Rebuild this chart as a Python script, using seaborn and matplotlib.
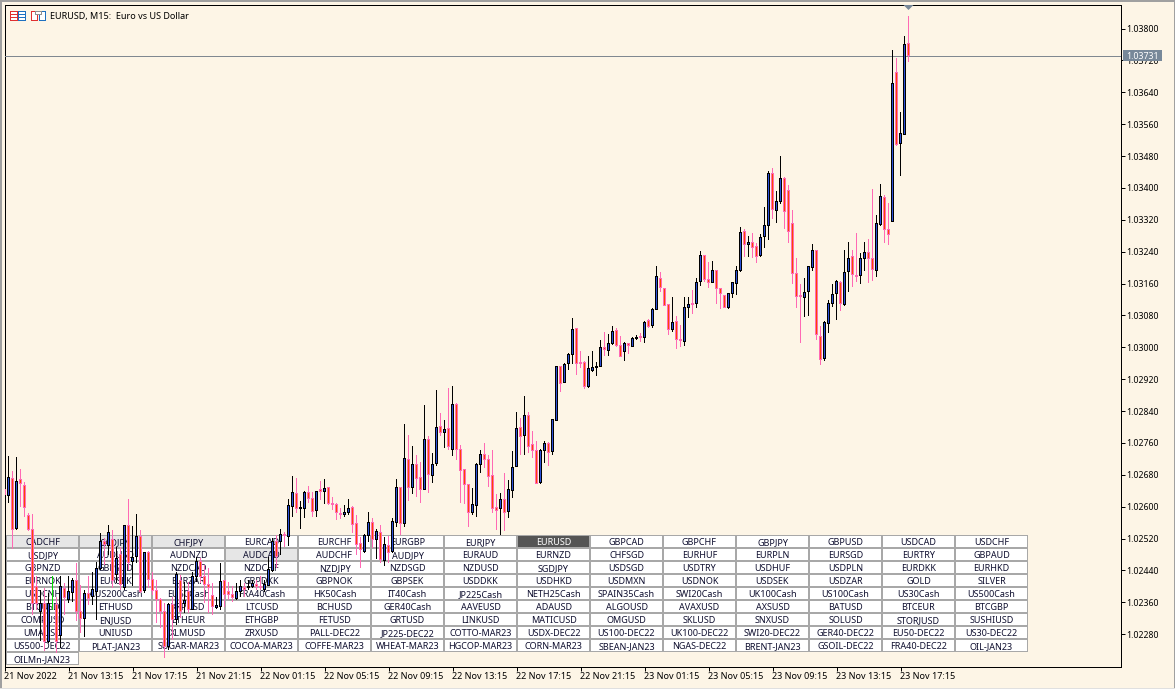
import numpy as np
import pandas as pd
import seaborn as sns
import matplotlib
matplotlib.use("Agg")
import matplotlib.pyplot as plt
from matplotlib.patches import Rectangle, Polygon
from matplotlib.transforms import Affine2D

# ---- chart data: MT5 points (price x 100000) ----
highs = [
102667,102727,102690,102724,102695,102663,102584,102582,102425,102391,
102396,102384,102425,102374,102425,102409,102425,102421,102459,102404,
102391,102425,102437,102462,102534,102522,102554,102542,102500,102500,
102552,102619,102552,102582,102542,102487,102490,102437,102416,102371,
102359,102359,102374,102437,102429,102412,102412,102437,102475,102472,
102454,102446,102409,102374,102459,102416,102412,102400,102409,102416,
102408,102416,102416,102416,102425,102416,102475,102521,102529,102544,
102537,102619,102677,102673,102614,102640,102652,102636,102640,102665,
102669,102650,102625,102609,102596,102604,102619,102602,102579,102523,
102532,102586,102571,102544,102554,102525,102527,102571,102670,102650,
102807,102780,102752,102730,102712,102855,102778,102734,102893,102834,
102818,102899,102903,102860,102755,102695,102657,102646,102709,102742,
102759,102730,102742,102632,102634,102684,102667,102740,102837,102823,
102878,102837,102790,102765,102745,102765,102762,102819,102954,102952,
102960,102986,103073,103048,102991,102966,102978,102991,102964,103018,
103039,103033,103053,103049,103028,103013,103012,103027,103031,103035,
103067,103070,103098,103204,103188,103150,103109,103125,103078,103056,
103125,103125,103144,103175,103241,103232,103215,103216,103194,103149,
103131,103137,103164,103204,103301,103296,103279,103287,103262,103284,
103353,103442,103449,103393,103480,103428,103407,103344,103223,103159,
103173,103204,103258,103244,103053,103066,103119,103158,103169,103167,
103244,103263,103244,103286,103236,103263,103273,103396,103332,103411,
103382,103361,103746,103725,103591,103781,103831]
lows = [
102609,102610,102493,102542,102600,102575,102539,102328,102341,102262,
102237,102258,102341,102233,102245,102328,102359,102360,102312,102283,
102274,102354,102354,102316,102441,102454,102479,102396,102409,102391,
102391,102441,102400,102459,102383,102383,102396,102379,102308,102295,
102220,102241,102266,102304,102321,102333,102334,102340,102412,102409,
102359,102334,102328,102343,102341,102349,102366,102362,102366,102374,
102374,102391,102396,102391,102391,102387,102400,102437,102446,102479,
102500,102502,102573,102584,102544,102571,102609,102573,102573,102617,
102607,102604,102592,102567,102569,102573,102579,102534,102479,102446,
102485,102512,102496,102468,102458,102452,102458,102484,102550,102529,
102550,102615,102632,102625,102609,102642,102634,102660,102701,102778,
102748,102742,102726,102717,102609,102606,102550,102578,102575,102684,
102697,102650,102584,102542,102529,102539,102571,102623,102699,102730,
102730,102734,102722,102657,102657,102709,102703,102730,102815,102889,
102910,102943,102958,102930,102949,102895,102899,102939,102929,102950,
102978,102978,103006,103001,102975,102966,102983,103001,103018,103014,
103012,103049,103049,103093,103139,103104,103031,103039,102996,103000,
103003,103073,103083,103099,103154,103164,103150,103162,103109,103096,
103098,103095,103123,103132,103190,103226,103227,103223,103212,103227,
103248,103269,103323,103312,103359,103296,103262,103160,103099,103012,
103077,103079,103192,103018,102956,102966,103035,103102,103069,103091,
103104,103139,103152,103164,103160,103192,103162,103167,103177,103305,
103262,103257,103314,103506,103430,103532,103716]
opens = [
102644,102628,102671,102545,102669,102653,102577,102542,102400,102337,
102356,102262,102378,102354,102278,102394,102368,102385,102416,102337,
102320,102383,102375,102387,102446,102512,102502,102517,102429,102479,
102398,102552,102462,102475,102525,102390,102486,102418,102390,102368,
102337,102249,102354,102316,102416,102356,102387,102341,102424,102462,
102425,102404,102377,102348,102349,102415,102386,102379,102369,102386,
102396,102396,102400,102404,102400,102391,102402,102441,102512,102512,
102531,102525,102600,102632,102595,102596,102636,102621,102590,102642,
102638,102649,102609,102606,102584,102580,102585,102599,102557,102508,
102487,102527,102561,102518,102536,102465,102502,102487,102561,102649,
102559,102719,102649,102707,102674,102644,102769,102678,102709,102801,
102786,102796,102744,102857,102744,102694,102656,102585,102602,102707,
102730,102719,102678,102599,102596,102619,102588,102640,102701,102799,
102778,102828,102755,102742,102660,102741,102759,102738,102816,102951,
102912,102960,102982,103046,102962,102962,102901,102943,102950,102951,
103000,102991,103010,103043,103005,102989,103010,103003,103022,103027,
103025,103066,103054,103095,103173,103148,103108,103045,103064,103020,
103014,103099,103110,103110,103164,103231,103169,103163,103192,103148,
103129,103099,103135,103160,103192,103290,103258,103263,103252,103230,
103277,103305,103436,103344,103365,103424,103393,103311,103184,103131,
103124,103139,103200,103242,103027,102971,103060,103110,103135,103163,
103108,103190,103227,103181,103179,103223,103238,103223,103192,103307,
103376,103296,103315,103690,103512,103535,103762]
closes = [
102630,102674,102544,102664,102659,102599,102542,102358,102356,102356,
102262,102356,102378,102262,102400,102371,102387,102416,102337,102320,
102383,102370,102391,102446,102512,102504,102535,102416,102471,102404,
102552,102459,102473,102525,102387,102486,102418,102390,102366,102337,
102249,102354,102316,102429,102337,102364,102341,102424,102462,102425,
102404,102396,102349,102351,102412,102379,102379,102373,102387,102400,
102393,102400,102408,102400,102396,102404,102443,102512,102475,102531,
102527,102602,102635,102596,102599,102636,102621,102588,102639,102639,
102646,102609,102605,102586,102580,102586,102596,102556,102506,102492,
102527,102561,102517,102537,102467,102504,102486,102564,102649,102559,
102722,102649,102707,102671,102644,102769,102682,102707,102799,102787,
102794,102751,102857,102744,102690,102656,102585,102606,102707,102730,
102719,102675,102596,102590,102617,102585,102644,102699,102796,102776,
102828,102751,102742,102659,102742,102759,102736,102818,102951,102910,
102957,102983,103045,102960,102959,102901,102947,102950,102953,103000,
102995,103010,103040,103005,102976,103010,103005,103023,103025,103025,
103063,103052,103096,103177,103150,103106,103045,103063,103020,103016,
103100,103108,103108,103163,103231,103169,103163,103192,103148,103134,
103100,103135,103163,103192,103288,103258,103263,103251,103229,103276,
103305,103436,103346,103366,103424,103340,103290,103184,103127,103127,
103138,103202,103242,103031,102970,103063,103110,103133,103165,103110,
103188,103223,103183,103177,103223,103238,103223,103196,103311,103378,
103296,103283,103662,103510,103537,103760,103731]
assert len(highs) == len(lows) == len(opens) == len(closes) == 227

last_price = 1.03731
price_ticks = [1.02280, 1.02360, 1.02440, 1.02520, 1.02600, 1.02680, 1.02760, 1.02840,
               1.02920, 1.03000, 1.03080, 1.03160, 1.03240, 1.03320, 1.03400, 1.03480,
               1.03560, 1.03640, 1.03720, 1.03800]
time_tick_bars = [0, 16, 32, 48, 64, 80, 96, 112, 128, 144, 160, 176, 192, 208, 224]
time_labels = ["21 Nov 2022", "21 Nov 13:15", "21 Nov 17:15", "21 Nov 21:15", "22 Nov 01:15",
               "22 Nov 05:15", "22 Nov 09:15", "22 Nov 13:15", "22 Nov 17:15", "22 Nov 21:15",
               "23 Nov 01:15", "23 Nov 05:15", "23 Nov 09:15", "23 Nov 13:15", "23 Nov 17:15"]
title_text = "EURUSD, M15:  Euro vs US Dollar"

button_rows = [
 ["CADCHF","CADJPY","CHFJPY","EURCAD","EURCHF","EURGBP","EURJPY","EURUSD","GBPCAD","GBPCHF","GBPJPY","GBPUSD","USDCAD","USDCHF"],
 ["USDJPY","AUDUSD","AUDNZD","AUDCAD","AUDCHF","AUDJPY","EURAUD","EURNZD","CHFSGD","EURHUF","EURPLN","EURSGD","EURTRY","GBPAUD"],
 ["GBPNZD","GBPSGD","NZDCAD","NZDCHF","NZDJPY","NZDSGD","NZDUSD","SGDJPY","USDSGD","USDTRY","USDHUF","USDPLN","EURDKK","EURHKD"],
 ["EURNOK","EURSEK","EURZAR","GBPDKK","GBPNOK","GBPSEK","USDDKK","USDHKD","USDMXN","USDNOK","USDSEK","USDZAR","GOLD","SILVER"],
 ["USDCNH","AUS200Cash","EU50Cash","FRA40Cash","HK50Cash","IT40Cash","JP225Cash","NETH25Cash","SPAIN35Cash","SWI20Cash","UK100Cash","US100Cash","US30Cash","US500Cash"],
 ["BTCUSD","ETHUSD","XRPUSD","LTCUSD","BCHUSD","GER40Cash","AAVEUSD","ADAUSD","ALGOUSD","AVAXUSD","AXSUSD","BATUSD","BTCEUR","BTCGBP"],
 ["COMPUSD","ENJUSD","ETHEUR","ETHGBP","FETUSD","GRTUSD","LINKUSD","MATICUSD","OMGUSD","SKLUSD","SNXUSD","SOLUSD","STORJUSD","SUSHIUSD"],
 ["UMAUSD","UNIUSD","XLMUSD","ZRXUSD","PALL-DEC22","JP225-DEC22","COTTO-MAR23","USDX-DEC22","US100-DEC22","UK100-DEC22","SWI20-DEC22","GER40-DEC22","EU50-DEC22","US30-DEC22"],
 ["US500-DEC22","PLAT-JAN23","SUGAR-MAR23","COCOA-MAR23","COFFE-MAR23","WHEAT-MAR23","HGCOP-MAR23","CORN-MAR23","SBEAN-JAN23","NGAS-DEC22","BRENT-JAN23","GSOIL-DEC22","FRA40-DEC22","OIL-JAN23"],
 ["OILMn-JAN23"],
]
pressed_buttons = {"CADCHF", "CADJPY", "CHFJPY", "AUDCAD"}
active_button = "EURUSD"

# ---- styling ----
BG = "#FDF5E6"
UP_FILL, DOWN_FILL = "#2B50D8", "#FF4500"
UP_LINE, DOWN_LINE, DOJI_LINE = "#000000", "#FF69B4", "#00E000"
TAG = "#778899"
W, H = 1175, 689
PX = 72 / 100  # one pixel in points

sns.set_theme(style="ticks", rc={"figure.facecolor": BG, "axes.facecolor": BG,
                                 "axes.edgecolor": "black", "axes.linewidth": PX,
                                 "text.color": "black", "xtick.color": "black",
                                 "ytick.color": "black"})
plt.rcParams["font.family"] = ["Noto Sans", "DejaVu Sans"]
FS = 6.5

df = pd.DataFrame({"bar": np.arange(len(opens)),
                   "high": np.array(highs) / 1e5, "low": np.array(lows) / 1e5,
                   "open": np.array(opens) / 1e5, "close": np.array(closes) / 1e5})
df["kind"] = np.where(df.close > df.open, "up", np.where(df.close < df.open, "down", "doji"))
df["top"] = df[["open", "close"]].max(axis=1)
df["bot"] = df[["open", "close"]].min(axis=1)

fig = plt.figure(figsize=(W / 100, H / 100), dpi=100)
ax = fig.add_axes([4.5 / W, 1 - 666.5 / H, (1120.5 - 4.5) / W, (666.5 - 4.5) / H])
px = Affine2D().scale(1 / W, -1 / H).translate(0, 1) + fig.transFigure

# price scale: 1.03800 at row 28.5 and 1.03000 at row 347.3
per_px = 0.008 / (347.3 - 28.5)
YLIM = (1.03 - (666.5 - 347.3) * per_px, 1.038 + (28.5 - 4.5) * per_px)
XLIM = (0, (1120.5 - 4.5) / 4)


def bars(d, low, high, width, color, z):
    """One layer of candle parts, drawn as seaborn bars on the numeric bar axis."""
    sns.barplot(x=d.bar.values, y=high - low, bottom=low, native_scale=True, width=width,
                color=color, saturation=1, errorbar=None, linewidth=0, antialiased=False,
                legend=False, ax=ax, zorder=z)


for kind, line in [("up", UP_LINE), ("down", DOWN_LINE), ("doji", DOJI_LINE)]:
    d = df[df.kind == kind]
    bars(d, d.low.values, d.high.values, 0.25, line, 6)
for kind, fill, line in [("up", UP_FILL, UP_LINE), ("down", DOWN_FILL, DOWN_LINE)]:
    d = df[df.kind == kind]
    outer_low = d.bot.values - 0.5 * per_px
    outer_high = np.maximum(d.top.values + 0.5 * per_px, outer_low + 2 * per_px)
    bars(d, outer_low, outer_high, 0.75, line, 7)
    inner_low = d.bot.values + 0.5 * per_px
    inner_high = np.maximum(d.top.values - 0.5 * per_px, inner_low)
    bars(d, inner_low, inner_high, 0.25, fill, 8)
ax.set_xlim(*XLIM)
ax.set_ylim(*YLIM)

# last price line
ax.axhline(last_price, color="#808890", lw=PX, zorder=5, antialiased=False)

# axes
ax.set_xlabel(""); ax.set_ylabel("")
ax.yaxis.tick_right()
ax.set_yticks(price_ticks)
ax.set_yticklabels([f"{v:.5f}" for v in price_ticks], fontsize=6.3)
ax.set_xticks(time_tick_bars)
ax.set_xticklabels(time_labels, fontsize=FS, ha="left")
ax.tick_params(axis="both", length=4 * PX, width=PX, pad=1.2)
for s in ax.spines.values():
    s.set_visible(True); s.set_linewidth(PX)

# buttons
for r, row in enumerate(button_rows):
    for c, name in enumerate(row):
        x0, y0 = 6 + 73 * c, 535 + 13 * r
        fc = "#555555" if name == active_button else ("#E6E6E6" if name in pressed_buttons else "white")
        ax.add_patch(Rectangle((x0, y0), 73, 13, transform=px, facecolor="#A8A8A8", edgecolor="none",
                               zorder=3, clip_on=False, antialiased=False))
        ax.add_patch(Rectangle((x0 + 1, y0 + 1), 71, 11, transform=px, facecolor=fc, edgecolor="none",
                               zorder=3.1, clip_on=False, antialiased=False))
        ax.text(x0 + 36.5, y0 + 9.8, name, transform=px, ha="center", va="baseline", fontsize=FS,
                color="white" if name == active_button else "#101030", zorder=4, clip_on=False)

# price tag and marker
ax.add_patch(Rectangle((1123, 50), 39, 11, transform=px, facecolor=TAG, edgecolor="none",
                       zorder=9, clip_on=False))
ax.text(1142.5, 59, f"{last_price:.5f}", transform=px, ha="center", va="baseline",
        fontsize=6.3, color="white", zorder=10, clip_on=False)
ax.add_patch(Polygon([(903.5, 5), (913.5, 5), (908.5, 10)], transform=px, facecolor=TAG,
                     edgecolor="none", zorder=9, clip_on=False))

# header
ax.text(50, 18.5, title_text, transform=px, ha="left", va="baseline", fontsize=FS, zorder=10)
def icon(x, y, w, h, col):
    ax.add_patch(Rectangle((x, y), w, h, transform=px, facecolor="white", edgecolor=col,
                           linewidth=PX, zorder=9, clip_on=False, antialiased=False))
for x0, col in [(9.5, "#E03030"), (17.5, "#1E70C0")]:
    icon(x0, 10.5, 7, 9, col)
    for yy in (13.5, 16.5):
        ax.plot([x0, x0 + 7], [yy, yy], transform=px, color=col, lw=PX, zorder=10,
                clip_on=False, antialiased=False)
icon(30.5, 10.5, 6, 9, "#E03030")
icon(38.5, 10.5, 6, 9, "#1E70C0")
icon(34.5, 10.5, 6, 3, "#909090")

# window edge
for x, y, w, h, col in [(0, 0, W, 2, "#A0A0A0"), (0, 0, 2, H, "#A0A0A0"),
                        (W - 1, 0, 1, H, "#A0A0A0"), (0, H - 1, W, 1, "#E0E0E0")]:
    fig.add_artist(Rectangle((x, y), w, h, transform=px, facecolor=col, edgecolor="none"))

fig.savefig("out.png", dpi=100, facecolor=BG)
